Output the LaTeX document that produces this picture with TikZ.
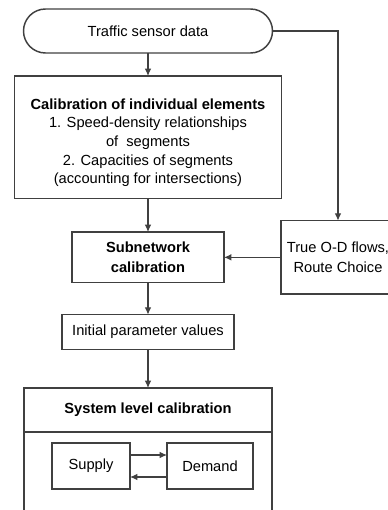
\documentclass[tikz,border=0pt]{standalone}
\usepackage{fontspec}
\setmainfont{Liberation Sans}
\usepackage{tikz}
\usetikzlibrary{arrows.meta,positioning}

\begin{document}
\begin{tikzpicture}[
  node distance=25pt,
  font=\fontsize{11}{15.5}\selectfont,
  box/.style={draw=black!75, line width=1.1pt, align=center, outer sep=0pt,
              inner sep=0pt},
  ar/.style={draw=black!75, line width=0.9pt, -{Latex[length=5.5pt,width=5pt]}}]

\clip (0,0) rectangle (291pt,-382.5pt);

\node[box, rounded corners=16.5pt, minimum width=186.75pt, minimum height=33pt]
  (sensor) at (111pt,-23.25pt) {Traffic sensor data};
\node[box, below=17.25pt of sensor, minimum width=200pt, minimum height=92pt,
      font=\fontsize{11}{13.9}\selectfont] (calib)
  {\rule{0pt}{16pt}\textbf{Calibration of individual elements}\\
   1. Speed-density relationships\\
   of\ \ segments\\
   2. Capacities of segments\\
   (accounting for intersections)};
\node[box, below=of calib, minimum width=114pt, minimum height=38pt] (subnet)
  {\textbf{Subnetwork}\\\textbf{calibration}};
\node[box, right=42.75pt of subnet, minimum width=85.5pt, minimum height=55pt]
  (trueod) {True O-D flows,\\Route Choice};
\node[box, below=24pt of subnet, minimum width=129pt, minimum height=26pt]
  (init) {Initial parameter values};
\node[box, below=29pt of init, minimum width=186pt, minimum height=33pt]
  (sys) {\textbf{System level calibration}};
\node[box, below=0pt of sys, minimum width=186pt, minimum height=75pt]
  (sysbody) {};
\node[box, below right=8.25pt and 21pt of sys.south west, minimum width=58.5pt,
      minimum height=34.5pt] (supply) {Supply};
\node[box, right=27.75pt of supply, minimum width=64.5pt, minimum height=34.5pt]
  (demand) {Demand};

\draw[ar] (sensor) -- (calib);
\draw[ar] (calib) -- (subnet);
\draw[ar] (sensor.east) -| (trueod);
\draw[ar] (trueod) -- (subnet);
\draw[ar] (subnet) -- (init);
\draw[ar] (init) -- (sys);
\draw[ar] ([yshift=8.25pt]supply.east) -- ([yshift=8.25pt]demand.west);
\draw[ar] ([yshift=-8.25pt]demand.west) -- ([yshift=-8.25pt]supply.east);
\end{tikzpicture}
\end{document}
